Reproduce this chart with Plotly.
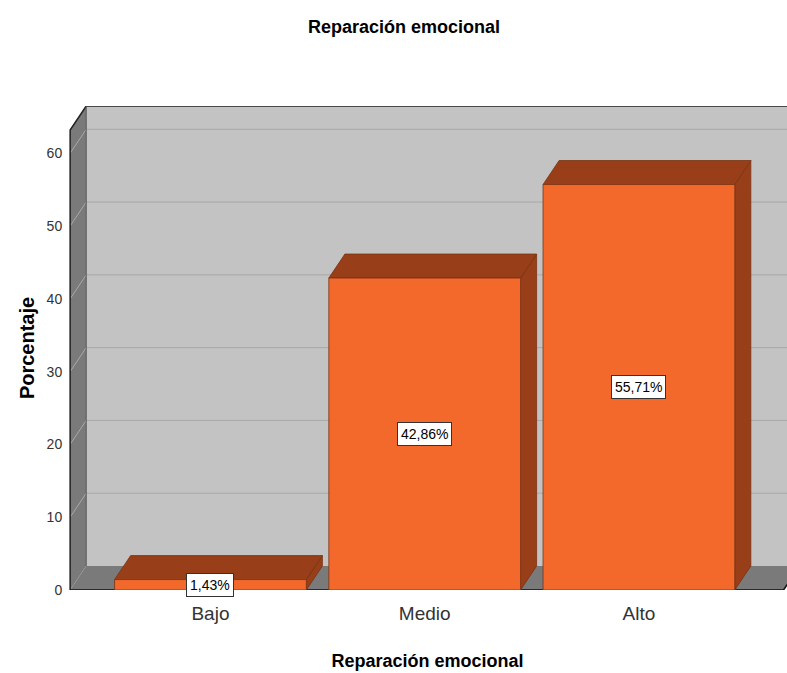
import plotly.graph_objects as go

categories = ["Bajo", "Medio", "Alto"]
values = [1.43, 42.86, 55.71]
labels = ["1,43%", "42,86%", "55,71%"]
y_ticks = [0, 10, 20, 30, 40, 50, 60]

# 3D look parameters (data units)
DX = 0.075      # depth offset in x
DY = 3.3        # depth offset in y
BAR_W = 0.895
X_LEFT = -0.655
X_RIGHT = 2.675
Y_TOP = 63.2

WALL = "#c3c3c3"
SIDE = "#7a7a7a"
GRID = "#a9a9a9"
FRONT = "#f3692c"
DARK = "#983f1a"
EDGE = "#7a3212"
FONT = "Liberation Sans, Arial"

fig = go.Figure()

def poly(xs, ys, fill, line_color=None, width=0):
    fig.add_trace(go.Scatter(
        x=xs + [xs[0]], y=ys + [ys[0]], mode="lines", fill="toself",
        fillcolor=fill, line=dict(color=line_color or fill, width=width),
        hoverinfo="skip", showlegend=False))

def line(xs, ys, color, width=1):
    fig.add_trace(go.Scatter(x=xs, y=ys, mode="lines",
                             line=dict(color=color, width=width),
                             hoverinfo="skip", showlegend=False))

# back wall
poly([X_LEFT + DX, 3.2, 3.2, X_LEFT + DX], [DY, DY, Y_TOP + DY, Y_TOP + DY], WALL)
# left wall
poly([X_LEFT, X_LEFT + DX, X_LEFT + DX, X_LEFT], [0, DY, Y_TOP + DY, Y_TOP], SIDE)
# floor
poly([X_LEFT, X_RIGHT, X_RIGHT + DX, X_LEFT + DX], [0, 0, DY, DY], SIDE)

# gridlines
for v in y_ticks[1:]:
    line([X_LEFT + DX, 3.2], [v + DY, v + DY], GRID, 1)
    line([X_LEFT, X_LEFT + DX], [v, v + DY], GRID, 1)

# wall outlines
line([X_LEFT, X_LEFT, X_LEFT + DX, 3.2], [0, Y_TOP, Y_TOP + DY, Y_TOP + DY], "#222222", 1.5)
line([X_LEFT + DX, X_LEFT + DX], [DY, Y_TOP + DY], "#555555", 1)
line([X_LEFT, X_RIGHT, X_RIGHT + DX], [0, 0, DY], "#111111", 1.5)

# bars
for i, v in enumerate(values):
    x0 = i - BAR_W / 2
    x1 = i + BAR_W / 2
    poly([x1, x1 + DX, x1 + DX, x1], [0, DY, v + DY, v], DARK, EDGE, 0.8)
    poly([x0, x0 + DX, x1 + DX, x1], [v, v + DY, v + DY, v], DARK, EDGE, 0.8)
    poly([x0, x1, x1, x0], [0, 0, v, v], FRONT, EDGE, 0.8)
    fig.add_annotation(x=i, y=v / 2, text=labels[i], showarrow=False,
                       bgcolor="white", bordercolor="#333333", borderwidth=1,
                       borderpad=3,
                       font=dict(family=FONT, size=14, color="black"))

fig.update_layout(
    width=787, height=673,
    margin=dict(l=68, r=0, t=106, b=83),
    paper_bgcolor="white", plot_bgcolor="white",
    title=dict(text="<b>Reparación emocional</b>", x=404 / 787, xanchor="center",
               y=1 - 27 / 673, yanchor="middle",
               font=dict(family=FONT, size=18, color="black")),
    xaxis=dict(range=[X_LEFT - 0.01, 2.6913], tickvals=[0, 1, 2], ticktext=categories,
               showgrid=False, zeroline=False, showline=False,
               ticks="outside", ticklen=6, tickcolor="rgba(0,0,0,0)",
               tickfont=dict(family=FONT, size=19, color="#333333"),
               title=dict(text="<b>Reparación emocional</b>", standoff=31,
                          font=dict(family=FONT, size=18, color="black"))),
    yaxis=dict(range=[0, 66.5], tickvals=y_ticks, showgrid=False, zeroline=False,
               showline=False, ticks="outside", ticklen=2, tickcolor="rgba(0,0,0,0)",
               tickfont=dict(family=FONT, size=14, color="#333333"),
               title=dict(text="<b>Porcentaje</b>", standoff=6,
                          font=dict(family=FONT, size=20, color="black"))),
)

fig.write_html("out.html", config={"displayModeBar": False},
               post_script="document.body.style.margin='0';")
